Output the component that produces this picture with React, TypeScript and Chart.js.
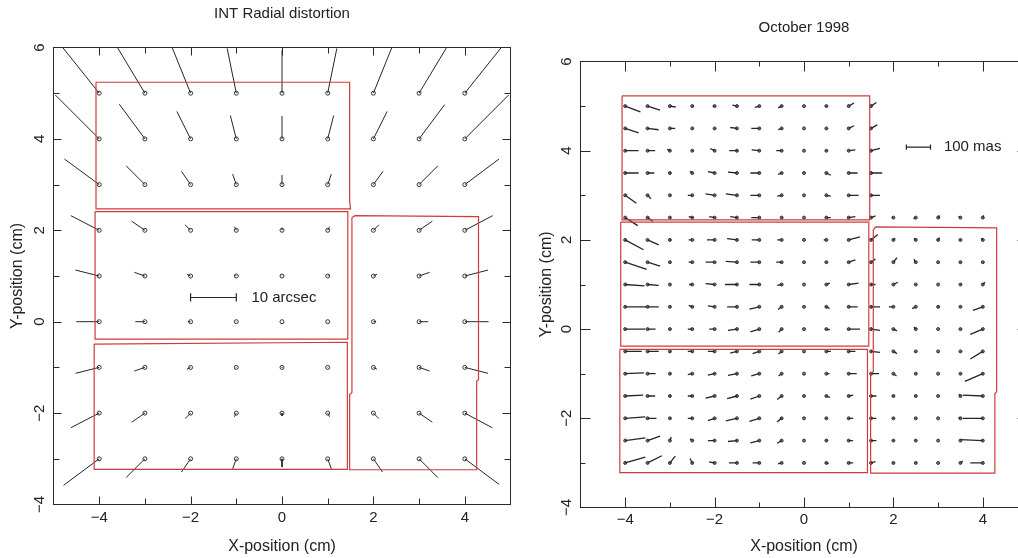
import React, { useEffect, useRef } from "react";
import { Chart, registerables } from "chart.js";

Chart.register(...registerables);

// ---------------- shared axis data ----------------
const X_TICKS = [-4, -3, -2, -1, 0, 1, 2, 3, 4];
const X_LABELS = [-4, -2, 0, 2, 4];
const Y_TICKS = [-3, -2, -1, 0, 1, 2, 3, 4, 5];
const Y_LABELS = [-4, -2, 0, 2, 4, 6];
const X_TITLE = "X-position (cm)";
const Y_TITLE = "Y-position (cm)";

// ---------------- left panel: INT radial distortion ----------------
const LEFT_TITLE = "INT Radial distortion";
const LEFT_COLS = [-4, -3, -2, -1, 0, 1, 2, 3, 4];
const LEFT_ROWS = [5, 4, 3, 2, 1, 0, -1, -2, -3];
const LEFT_DX = [
  [-1.23, -0.77, -0.44, -0.2, 0.0, 0.2, 0.44, 0.77, 1.23],
  [-0.96, -0.56, -0.3, -0.13, 0.0, 0.13, 0.3, 0.56, 0.96],
  [-0.76, -0.41, -0.2, -0.08, 0.0, 0.08, 0.21, 0.41, 0.75],
  [-0.62, -0.29, -0.12, -0.04, 0.0, 0.04, 0.12, 0.29, 0.61],
  [-0.52, -0.23, -0.08, -0.02, 0.0, 0.02, 0.08, 0.23, 0.51],
  [-0.5, -0.21, -0.06, -0.01, 0.0, 0.01, 0.06, 0.2, 0.52],
  [-0.52, -0.23, -0.08, -0.02, 0.0, 0.02, 0.08, 0.23, 0.51],
  [-0.62, -0.29, -0.12, -0.04, 0.0, 0.04, 0.12, 0.29, 0.6],
  [-0.78, -0.41, -0.2, -0.08, 0.0, 0.08, 0.2, 0.41, 0.75],
];
const LEFT_DY = [
  [1.54, 1.28, 1.09, 0.98, 0.94, 0.98, 1.09, 1.28, 1.54],
  [0.96, 0.76, 0.6, 0.51, 0.5, 0.51, 0.6, 0.75, 0.96],
  [0.56, 0.41, 0.29, 0.23, 0.21, 0.23, 0.29, 0.41, 0.56],
  [0.32, 0.2, 0.12, 0.08, 0.06, 0.08, 0.12, 0.2, 0.32],
  [0.13, 0.08, 0.04, 0.02, 0.01, 0.02, 0.04, 0.08, 0.13],
  [0, 0, 0, 0, 0, 0, 0, 0, 0],
  [-0.13, -0.08, -0.04, -0.02, -0.01, -0.02, -0.04, -0.08, -0.13],
  [-0.32, -0.2, -0.12, -0.08, -0.06, -0.08, -0.12, -0.2, -0.32],
  [-0.58, -0.41, -0.29, -0.22, -0.18, -0.22, -0.29, -0.41, -0.56],
];
const LEFT_CHIP_A = [[-4.07, 5.24], [1.48, 5.24], [1.48, 2.65], [1.5, 2.47], [-4.07, 2.47], [-4.07, 5.24]];
const LEFT_CHIP_B = [[-4.09, 2.41], [1.44, 2.41], [1.44, -0.38], [-4.09, -0.38], [-4.09, 2.41]];
const LEFT_CHIP_C = [[-4.11, -0.49], [1.43, -0.45], [1.43, -3.23], [-4.11, -3.23], [-4.11, -0.49]];
const LEFT_CHIP_D = [[1.53, 2.28], [1.6, 2.32], [4.3, 2.3], [4.3, -1.27], [4.26, -1.3], [4.26, -3.24], [1.48, -3.24], [1.48, -1.6], [1.53, -1.55], [1.53, 2.28]];
const LEFT_BAR_X = [-2, -1];
const LEFT_BAR_Y = 0.53;
const LEFT_BAR_LABEL = "10 arcsec";
const LEFT_BAR_LABEL_X = -0.67;

// ---------------- right panel: October 1998 ----------------
const RIGHT_TITLE = "October 1998";
const RIGHT_COLS = [-4, -3.5, -3, -2.5, -2, -1.5, -1, -0.5, 0, 0.5, 1, 1.5, 2, 2.5, 3, 3.5, 4];
const RIGHT_ROWS = [5, 4.5, 4, 3.5, 3, 2.5, 2, 1.5, 1, 0.5, 0, -0.5, -1, -1.5, -2, -2.5, -3];
const N = null;
const RIGHT_DX = [
  [0.34, 0.28, 0.13, 0.03, -0.04, -0.1, -0.1, -0.08, 0.02, 0.03, 0.12, 0.12, N, N, N, N, N],
  [0.3, 0.25, 0.12, 0.02, 0.02, -0.15, -0.18, -0.08, 0.02, 0.02, 0.12, 0.14, N, N, N, N, N],
  [0.3, 0.17, -0.06, 0.02, -0.1, -0.17, -0.17, -0.12, 0.02, 0.02, 0.15, 0.2, N, N, N, N, N],
  [0.3, 0.15, 0.02, -0.05, -0.15, -0.2, -0.2, -0.08, 0.02, 0.1, 0.2, 0.25, N, N, N, N, N],
  [0.25, 0.08, 0.02, -0.1, -0.2, -0.25, -0.2, -0.1, 0.02, 0.1, 0.22, 0.2, N, N, N, N, N],
  [0.28, 0.12, 0.02, -0.08, -0.12, -0.15, -0.18, 0.02, 0.02, 0.1, 0.15, 0.1, -0.03, -0.05, 0.02, -0.04, 0.02],
  [0.41, 0.25, 0.02, -0.08, -0.17, -0.22, -0.17, -0.1, 0.02, -0.06, 0.25, 0.15, 0.04, -0.04, 0.03, 0.02, -0.03],
  [0.48, 0.28, 0.02, -0.08, -0.2, -0.25, -0.2, -0.12, 0.02, 0.02, 0.15, 0.1, 0.08, -0.04, 0.02, 0.02, 0.02],
  [0.43, 0.25, 0.02, -0.07, -0.2, -0.27, -0.22, -0.1, 0.02, 0.08, 0.22, 0.1, 0.1, 0.02, 0.02, 0.02, 0.05],
  [0.48, 0.25, 0.02, -0.08, -0.15, -0.22, -0.22, -0.08, 0.02, 0.07, 0.2, 0.2, -0.1, -0.08, 0.03, 0.02, -0.22],
  [0.45, 0.18, 0.02, -0.1, -0.12, -0.2, -0.2, -0.07, 0.02, 0.08, 0.25, 0.2, 0.08, -0.04, 0.02, 0.02, -0.28],
  [0.37, 0.25, 0.02, -0.1, -0.15, -0.15, -0.15, -0.07, 0.02, 0.1, 0.15, 0.2, 0.08, 0.02, 0.02, 0.02, -0.28],
  [0.42, 0.18, 0.02, -0.1, -0.15, -0.2, -0.18, -0.07, 0.02, 0.07, 0.18, 0.18, 0.07, 0.02, 0.02, 0.02, -0.4],
  [0.4, 0.17, 0.02, -0.1, -0.2, -0.22, -0.2, -0.1, 0.02, 0.08, 0.1, 0.12, 0.02, 0.02, 0.02, -0.03, -0.45],
  [0.45, 0.2, 0.02, -0.1, -0.15, -0.25, -0.22, -0.1, 0.02, 0.02, 0.1, 0.12, 0.02, 0.02, 0.02, -0.04, -0.45],
  [0.45, 0.28, 0.03, -0.05, -0.15, -0.2, -0.2, -0.1, 0.02, 0.03, 0.1, 0.12, 0.02, 0.02, 0.02, 0.02, -0.5],
  [0.45, 0.32, 0.12, -0.05, -0.12, -0.18, -0.15, -0.08, 0.02, 0.05, 0.1, 0.1, 0.02, 0.02, 0.02, 0.05, -0.28],
];
const RIGHT_DY = [
  [-0.13, -0.09, -0.02, 0, 0, 0.02, -0.03, -0.04, 0, 0, 0.07, 0.08, N, N, N, N, N],
  [-0.1, -0.03, 0, 0, 0, 0.02, 0, -0.03, 0, 0, 0.06, 0.08, N, N, N, N, N],
  [0, 0, 0.03, 0, 0.05, 0, 0.02, 0, 0, 0, 0.02, 0.05, N, N, N, N, N],
  [0, 0, 0, 0.04, 0.03, 0.02, 0, -0.03, 0, -0.05, 0, 0, N, N, N, N, N],
  [-0.18, -0.08, 0, 0, 0.03, 0.03, 0, -0.02, 0, -0.02, 0, 0, N, N, N, N, N],
  [-0.18, -0.08, 0, 0.02, 0.02, 0.02, 0, 0, 0, 0, 0.02, 0.04, 0, -0.03, 0.05, 0.03, 0.05],
  [-0.22, -0.11, 0, 0, 0, 0.03, 0, 0, 0, 0, 0.07, 0.12, 0.04, 0.04, 0.05, 0, 0.04],
  [-0.16, -0.09, 0, 0, 0, 0.02, 0, 0, 0, 0, 0.05, 0.07, 0.1, 0.07, 0, 0, 0],
  [-0.03, -0.02, 0, 0, 0.02, 0, 0, -0.02, 0, 0.03, 0.03, 0, 0.05, 0, 0, 0, 0.05],
  [0, 0, 0, 0.03, 0.02, 0, -0.05, -0.06, 0, -0.04, 0, 0, 0, -0.04, 0, 0, -0.08],
  [0, 0, 0, 0, 0, -0.03, -0.06, -0.07, 0, -0.02, 0, -0.03, -0.04, 0.05, 0, 0, -0.12],
  [0, 0, 0, 0, 0, -0.04, -0.05, -0.06, 0, 0, 0, -0.02, -0.05, 0, 0, 0, -0.17],
  [0.02, 0, 0, -0.02, -0.03, -0.04, -0.05, -0.05, 0, 0, 0, 0, -0.05, 0, 0, 0, -0.17],
  [0.02, 0, 0, 0, -0.05, -0.06, -0.07, -0.08, 0, -0.03, 0.02, 0, 0, 0, 0, 0.04, 0.02],
  [0.03, 0, 0, 0, -0.05, -0.06, -0.07, -0.08, 0, 0, 0, 0, 0, 0, 0, 0.02, 0],
  [0.06, 0.1, 0.08, 0.04, 0, -0.02, -0.05, -0.06, 0, 0.02, 0, 0, 0, 0, 0, 0, 0.02],
  [0.13, 0.16, 0.15, 0.1, 0.02, 0, 0, -0.02, 0, -0.02, 0, 0.03, 0, 0, 0, 0.04, 0],
];
const RIGHT_CHIP_A = [[-4.07, 5.23], [1.47, 5.23], [1.47, 2.45], [-4.07, 2.45], [-4.07, 5.23]];
const RIGHT_CHIP_B = [[-4.1, 2.4], [1.45, 2.4], [1.45, -0.38], [-4.1, -0.38], [-4.1, 2.4]];
const RIGHT_CHIP_C = [[-4.12, -0.455], [1.42, -0.455], [1.42, -3.22], [-4.12, -3.22], [-4.12, -0.455]];
const RIGHT_CHIP_D = [[1.55, 2.22], [1.6, 2.29], [4.31, 2.27], [4.31, -1.4], [4.27, -1.45], [4.27, -3.23], [1.49, -3.23], [1.49, -1.0], [1.55, -0.95], [1.55, 2.22]];
const RIGHT_BAR_X = [2.29, 2.83];
const RIGHT_BAR_Y = 4.08;
const RIGHT_BAR_LABEL = "100 mas";
const RIGHT_BAR_LABEL_X = 3.13;

// ---------------- builders ----------------
type Pt = { x: number; y: number | null };

function vectorPoints(cols: number[], rows: number[], dx: (number | null)[][], dy: (number | null)[][]): Pt[] {
  const out: Pt[] = [];
  rows.forEach((y, i) =>
    cols.forEach((x, j) => {
      const u = dx[i][j];
      const v = dy[i][j];
      if (u === null || v === null) return;
      out.push({ x, y }, { x: x + u, y: y + v }, { x: x + u, y: null });
    })
  );
  return out;
}

function gridPoints(cols: number[], rows: number[], dx: (number | null)[][]): Pt[] {
  const out: Pt[] = [];
  rows.forEach((y, i) =>
    cols.forEach((x, j) => {
      if (dx[i][j] !== null) out.push({ x, y });
    })
  );
  return out;
}

function polyPoints(polys: number[][][]): Pt[] {
  const out: Pt[] = [];
  polys.forEach((p) => {
    p.forEach(([x, y]) => out.push({ x, y }));
    out.push({ x: p[0][0], y: null });
  });
  return out;
}

function barPoints(xs: number[], y: number, cap: number): Pt[] {
  return [
    { x: xs[0], y }, { x: xs[1], y }, { x: xs[1], y: null },
    { x: xs[0], y: y - cap }, { x: xs[0], y: y + cap }, { x: xs[0], y: null },
    { x: xs[1], y: y - cap }, { x: xs[1], y: y + cap },
  ];
}

const fmt = (v: number) => (v < 0 ? "\u2212" + Math.abs(v) : String(v));
const FONT = '15px "Liberation Sans", "DejaVu Sans", sans-serif';
const TITLE_FONT = '16px "Liberation Sans", "DejaVu Sans", sans-serif';

type PanelCfg = {
  padding: { left: number; right: number; top: number; bottom: number };
  xMax: number;
  title: string;
  titleGap: number;
  xLabelGap: number;
  xTitleGap: number;
  yLabelGap: number;
  yTitleGap: number;
  tickMajor: number;
  tickMinor: number;
  barLabel: string;
  barLabelX: number;
  barY: number;
  vectors: Pt[];
  dots: Pt[];
  chips: Pt[];
  bar: Pt[];
  vecWidth: number;
  dotRadius: number;
  dotFill: string;
};

function framePlugin(cfg: PanelCfg) {
  return {
    id: "frame",
    afterDraw(chart: any) {
      const { ctx, chartArea: a, scales } = chart;
      const xs = scales.x;
      const ys = scales.y;
      ctx.save();
      ctx.strokeStyle = "#2a2a2a";
      ctx.lineWidth = 1;
      ctx.strokeRect(a.left, a.top, a.right - a.left, a.bottom - a.top);
      ctx.beginPath();
      X_TICKS.forEach((v) => {
        const p = Math.round(xs.getPixelForValue(v)) + 0.5;
        const L = v % 2 === 0 ? cfg.tickMajor : cfg.tickMinor;
        ctx.moveTo(p, a.bottom);
        ctx.lineTo(p, a.bottom - L);
        ctx.moveTo(p, a.top);
        ctx.lineTo(p, a.top + L);
      });
      Y_TICKS.forEach((v) => {
        const p = Math.round(ys.getPixelForValue(v)) + 0.5;
        const L = v % 2 === 0 ? cfg.tickMajor : cfg.tickMinor;
        ctx.moveTo(a.left, p);
        ctx.lineTo(a.left + L, p);
        ctx.moveTo(a.right, p);
        ctx.lineTo(a.right - L, p);
      });
      ctx.stroke();

      ctx.fillStyle = "#222";
      ctx.font = FONT;
      ctx.textAlign = "center";
      ctx.textBaseline = "middle";
      X_LABELS.forEach((v) => ctx.fillText(fmt(v), xs.getPixelForValue(v), a.bottom + cfg.xLabelGap));
      Y_LABELS.forEach((v) => {
        ctx.save();
        ctx.translate(a.left - cfg.yLabelGap, ys.getPixelForValue(v));
        ctx.rotate(-Math.PI / 2);
        ctx.fillText(fmt(v), 0, 0);
        ctx.restore();
      });
      const cx = xs.getPixelForValue(0);
      ctx.fillText(cfg.title, cx, a.top - cfg.titleGap);
      ctx.font = TITLE_FONT;
      ctx.fillText(X_TITLE, cx, a.bottom + cfg.xTitleGap);
      ctx.save();
      ctx.translate(a.left - cfg.yTitleGap, (a.top + a.bottom) / 2);
      ctx.rotate(-Math.PI / 2);
      ctx.fillText(Y_TITLE, 0, 0);
      ctx.restore();
      ctx.font = FONT;
      ctx.textAlign = "left";
      ctx.fillText(cfg.barLabel, xs.getPixelForValue(cfg.barLabelX), ys.getPixelForValue(cfg.barY));
      ctx.restore();
    },
  };
}

function makeChart(canvas: HTMLCanvasElement, cfg: PanelCfg) {
  const lineBase = { showLine: true, pointRadius: 0, spanGaps: false, tension: 0, fill: false };
  return new Chart(canvas, {
    type: "line",
    data: {
      datasets: [
        { ...lineBase, data: cfg.chips, borderColor: "#cf3b3b", borderWidth: 1.2 },
        { ...lineBase, data: cfg.vectors, borderColor: "#262626", borderWidth: cfg.vecWidth },
        {
          data: cfg.dots,
          showLine: false,
          pointRadius: cfg.dotRadius,
          pointBorderWidth: 1,
          pointBorderColor: "#333",
          pointBackgroundColor: cfg.dotFill,
        },
        { ...lineBase, data: cfg.bar, borderColor: "#262626", borderWidth: 1.2 },
      ],
    } as any,
    options: {
      responsive: false,
      animation: false,
      devicePixelRatio: 1,
      events: [],
      layout: { padding: cfg.padding },
      plugins: { legend: { display: false }, tooltip: { enabled: false }, title: { display: false } },
      scales: {
        x: { type: "linear", min: -5, max: cfg.xMax, display: false },
        y: { type: "linear", min: -4, max: 6, display: false },
      },
    } as any,
    plugins: [framePlugin(cfg)],
  });
}

export default function App() {
  const leftRef = useRef<HTMLCanvasElement>(null);
  const rightRef = useRef<HTMLCanvasElement>(null);

  useEffect(() => {
    const left = makeChart(leftRef.current!, {
      padding: { left: 53.5, right: 19.5, top: 47.5, bottom: 53.5 },
      xMax: 5,
      title: LEFT_TITLE,
      titleGap: 33.5,
      xLabelGap: 13.5,
      xTitleGap: 42.5,
      yLabelGap: 13.5,
      yTitleGap: 35.5,
      tickMajor: 8,
      tickMinor: 6,
      barLabel: LEFT_BAR_LABEL,
      barLabelX: LEFT_BAR_LABEL_X,
      barY: LEFT_BAR_Y,
      vectors: vectorPoints(LEFT_COLS, LEFT_ROWS, LEFT_DX, LEFT_DY),
      dots: gridPoints(LEFT_COLS, LEFT_ROWS, LEFT_DX),
      chips: polyPoints([LEFT_CHIP_A, LEFT_CHIP_B, LEFT_CHIP_C, LEFT_CHIP_D]),
      bar: barPoints(LEFT_BAR_X, LEFT_BAR_Y, 0.09),
      vecWidth: 1,
      dotRadius: 2,
      dotFill: "rgba(255,255,255,0)",
    });
    const right = makeChart(rightRef.current!, {
      padding: { left: 60.5, right: 12.5, top: 61.5, bottom: 50.5 },
      xMax: 5,
      title: RIGHT_TITLE,
      titleGap: 33.5,
      xLabelGap: 12,
      xTitleGap: 39.5,
      yLabelGap: 13.5,
      yTitleGap: 34,
      tickMajor: 10,
      tickMinor: 5,
      barLabel: RIGHT_BAR_LABEL,
      barLabelX: RIGHT_BAR_LABEL_X,
      barY: RIGHT_BAR_Y,
      vectors: vectorPoints(RIGHT_COLS, RIGHT_ROWS, RIGHT_DX, RIGHT_DY),
      dots: gridPoints(RIGHT_COLS, RIGHT_ROWS, RIGHT_DX),
      chips: polyPoints([RIGHT_CHIP_A, RIGHT_CHIP_B, RIGHT_CHIP_C, RIGHT_CHIP_D]),
      bar: barPoints(RIGHT_BAR_X, RIGHT_BAR_Y, 0.06),
      vecWidth: 1.3,
      dotRadius: 1.5,
      dotFill: "#777",
    });
    return () => {
      left.destroy();
      right.destroy();
    };
  }, []);

  return (
    <div style={{ position: "fixed", left: 0, top: 0, width: 1018, height: 558, overflow: "hidden", background: "#fff" }}>
      <canvas ref={leftRef} width={530} height={558} style={{ position: "absolute", left: 0, top: 0 }} />
      <canvas ref={rightRef} width={520} height={558} style={{ position: "absolute", left: 520, top: 0 }} />
    </div>
  );
}
